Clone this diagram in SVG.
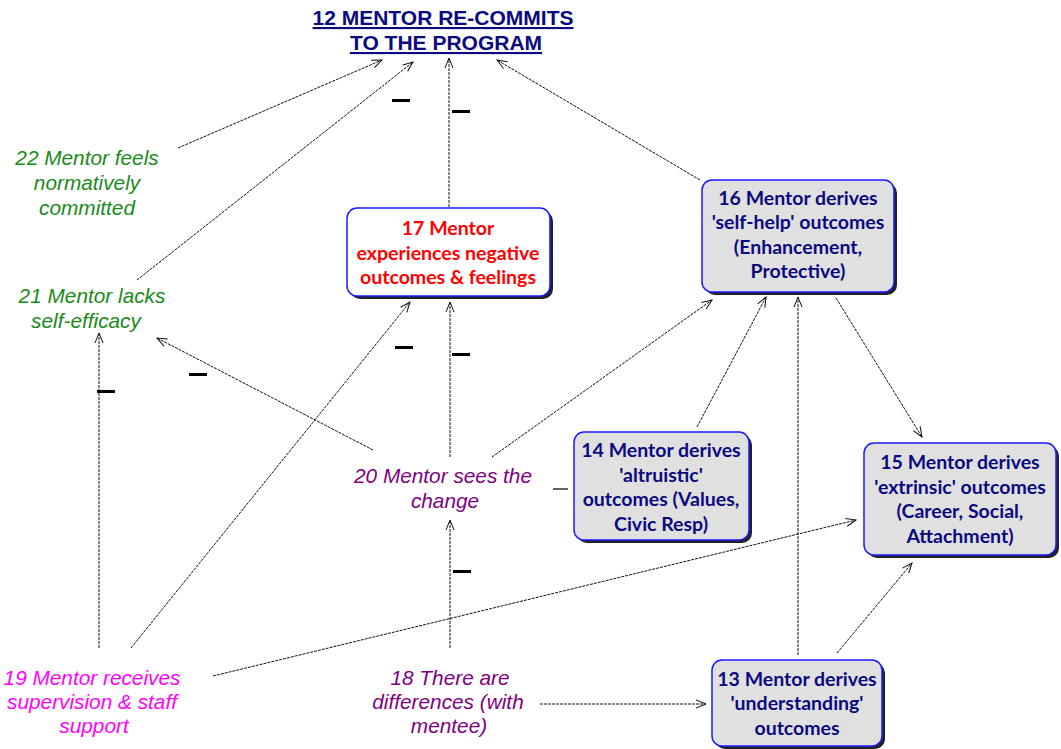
<svg xmlns="http://www.w3.org/2000/svg" width="1061" height="749" viewBox="0 0 1061 749">
<defs>
<marker id="ah" markerWidth="12" markerHeight="10" refX="11" refY="5" orient="auto" markerUnits="userSpaceOnUse">
<path d="M1,1 L11,5 L1,9" fill="none" stroke="#111" stroke-width="1"/>
</marker>
<style>
.t{font-family:"Liberation Sans",Arial,sans-serif;font-size:20.8px;font-style:italic;text-anchor:middle}
.b{font-family:Lato,"Liberation Sans",sans-serif;font-size:19.5px;font-weight:bold;text-anchor:middle}
.navy{fill:#0a0a80}
.box{stroke:#1a1aff;stroke-width:1.5}
.sh{fill:#222}
.c{fill:none;stroke:#111;stroke-width:1;stroke-dasharray:3 1;marker-end:url(#ah)}
.m{fill:#000}
</style>
</defs>
<rect width="1061" height="749" fill="#fff"/>

<g id="n12">
<text font-family="Liberation Sans,Arial,sans-serif" font-size="21" font-weight="bold" fill="#0a0a80" text-anchor="middle" text-decoration="underline"><tspan x="443" y="25">12 MENTOR RE-COMMITS</tspan><tspan x="446" y="50">TO THE PROGRAM</tspan></text>
</g>

<g id="n22"><text class="t" fill="#1a8a1a"><tspan x="87" y="165">22 Mentor feels</tspan><tspan x="87" y="190">normatively</tspan><tspan x="87" y="215">committed</tspan></text></g>

<g id="n21"><text class="t" fill="#1a8a1a"><tspan x="92" y="303">21 Mentor lacks</tspan><tspan x="86" y="328">self-efficacy</tspan></text></g>

<g id="n17">
<rect class="sh" x="350" y="211" width="203" height="88" rx="10"/>
<rect class="box" x="347" y="208" width="203" height="88" rx="10" fill="#fff"/>
<text class="b" fill="#f00"><tspan x="448" y="235">17 Mentor</tspan><tspan x="448" y="260">experiences negative</tspan><tspan x="448" y="284">outcomes &amp; feelings</tspan></text>
</g>

<g id="n16">
<rect class="sh" x="705" y="183" width="192" height="112" rx="10"/>
<rect class="box" x="702" y="180" width="192" height="112" rx="10" fill="#e0e0e0"/>
<text class="b navy"><tspan x="798" y="205">16 Mentor derives</tspan><tspan x="798" y="229">'self-help' outcomes</tspan><tspan x="798" y="254">(Enhancement,</tspan><tspan x="798" y="278">Protective)</tspan></text>
</g>

<g id="n14">
<rect class="sh" x="577" y="435" width="175" height="108" rx="10"/>
<rect class="box" x="574" y="432" width="175" height="108" rx="10" fill="#e0e0e0"/>
<text class="b navy"><tspan x="661" y="457">14 Mentor derives</tspan><tspan x="661" y="482">'altruistic'</tspan><tspan x="661" y="506">outcomes (Values,</tspan><tspan x="661" y="531">Civic Resp)</tspan></text>
</g>

<g id="n15">
<rect class="sh" x="867" y="446" width="192" height="112" rx="10"/>
<rect class="box" x="864" y="443" width="192" height="112" rx="10" fill="#e0e0e0"/>
<text class="b navy"><tspan x="960" y="469">15 Mentor derives</tspan><tspan x="960" y="494">'extrinsic' outcomes</tspan><tspan x="960" y="518">(Career, Social,</tspan><tspan x="960" y="543">Attachment)</tspan></text>
</g>

<g id="n13">
<rect class="sh" x="715" y="663" width="170" height="86" rx="10"/>
<rect class="box" x="712" y="660" width="170" height="86" rx="10" fill="#e0e0e0"/>
<text class="b navy"><tspan x="797" y="686">13 Mentor derives</tspan><tspan x="797" y="710">'understanding'</tspan><tspan x="797" y="735">outcomes</tspan></text>
</g>

<g id="n20"><text class="t" fill="#800080"><tspan x="443" y="483">20 Mentor sees the</tspan><tspan x="445" y="508">change</tspan></text></g>

<g id="n19"><text class="t" fill="#ff00ff"><tspan x="92" y="685">19 Mentor receives</tspan><tspan x="92" y="709">supervision &amp; staff</tspan><tspan x="94" y="733">support</tspan></text></g>

<g id="n18"><text class="t" fill="#800080"><tspan x="450" y="685">18 There are</tspan><tspan x="448" y="709">differences (with</tspan><tspan x="449" y="733">mentee)</tspan></text></g>

<g id="connectors">
<path class="c" d="M178,148 L382,60"/>
<path class="c" d="M137,280 L413,62"/>
<path class="c" d="M449,207 L449,58"/>
<path class="c" d="M700,180 L497,60"/>
<path class="c" d="M373,450 L157,338"/>
<path class="c" d="M99,648 L99,333"/>
<path class="c" d="M131,648 L410,302"/>
<path class="c" d="M450,457 L450,302"/>
<path class="c" d="M492,457 L712,300"/>
<path class="c" d="M697,427 L766,297"/>
<path class="c" d="M798,655 L798,297"/>
<path class="c" d="M836,298 L922,437"/>
<path class="c" d="M213,676 L856,520"/>
<path class="c" d="M837,653 L912,563"/>
<path class="c" d="M450,648 L450,520"/>
<path class="c" d="M540,704 L706,704"/>
<path d="M553,489 L568,489" stroke="#111" stroke-width="1.3"/>
</g>

<g id="signs">
<rect class="m" x="392" y="99" width="18" height="3"/>
<rect class="m" x="452" y="110" width="18" height="3"/>
<rect class="m" x="395" y="346" width="18" height="3"/>
<rect class="m" x="452" y="353" width="18" height="3"/>
<rect class="m" x="189" y="373" width="18" height="3"/>
<rect class="m" x="97" y="390" width="18" height="3"/>
<rect class="m" x="453" y="570" width="18" height="3"/>
</g>
</svg>
